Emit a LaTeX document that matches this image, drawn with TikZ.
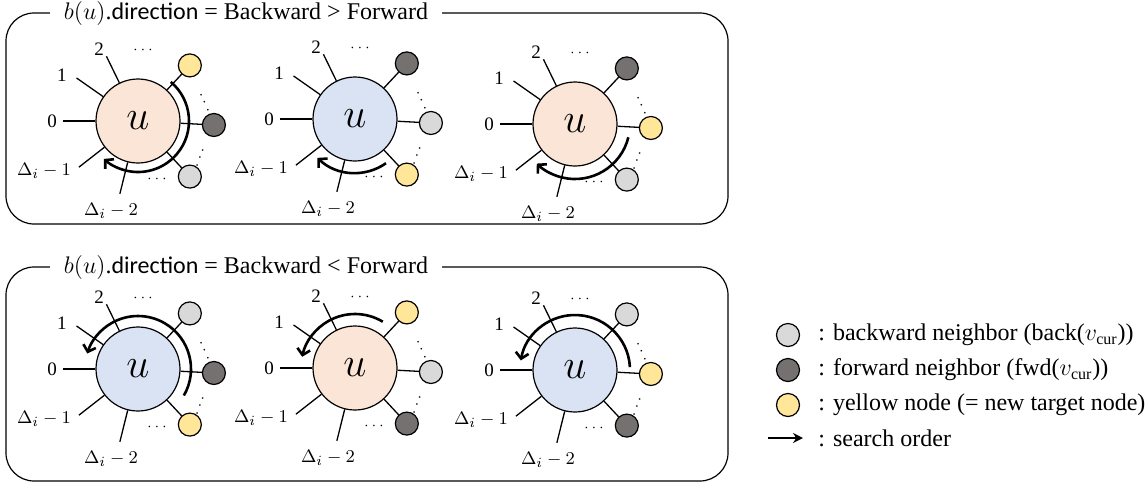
\documentclass[tikz,border=0pt]{standalone}
\usepackage{fontspec}
\setmainfont{Liberation Serif}
\newfontfamily\tnr{Liberation Serif}
\newfontfamily\calfont{Carlito}
\usepackage{tikz}
\usetikzlibrary{arrows.meta,calc}

\definecolor{peach}{HTML}{FBE5D6}
\definecolor{bluish}{HTML}{DAE3F3}
\definecolor{yel}{HTML}{FFE699}
\definecolor{dark}{HTML}{767171}
\definecolor{light}{HTML}{D9D9D9}

\tikzset{
  hub/.style={circle, draw, line width=0.6pt, minimum size=42pt, inner sep=0pt, font=\fontsize{22}{24}\selectfont},
  nbr/.style={circle, draw, line width=0.6pt, minimum size=11.5pt, inner sep=0pt},
  spoke/.style={line width=0.65pt},
  order/.style={line width=1.3pt, -{Straight Barb[length=3pt,width=6.5pt]}},
  lbl/.style={font=\tnr\fontsize{9.5}{11}\selectfont, inner sep=0pt},
  dots/.style={font=\fontsize{7}{8}\selectfont, inner sep=0pt},
  panel/.style={rounded corners=14pt, line width=0.6pt},
  ttl/.style={fill=white, minimum width=196pt, inner sep=0pt, font=\tnr\fontsize{12}{14}\selectfont},
  key/.style={anchor=west, inner sep=0pt, font=\tnr\fontsize{12}{14}\selectfont}
}

\begin{document}
\begin{tikzpicture}[x=0.5pt, y=0.5pt]
    %% Background
    \useasboundingbox (0,0) rectangle (1148,-484);

    %% Panels
    \draw[panel] (6,-13) rectangle (728,-224);
    \draw[panel] (6,-267) rectangle (728,-481);
    \node[ttl] (top) at (246,-13) {$b(u)$.{\calfont direction} = Backward > Forward};
    \node[ttl] (bot) at (246,-267) {$b(u)$.{\calfont direction} = Backward < Forward};

    %% Hubs with spokes, neighbours and search order
    \foreach \i/\cx/\cy/\fc/\na/\nb/\nc/\as/\ae/\ar in {
        1/138/-121/peach/yel/dark/light/50/-132/51,
        2/355/-119/bluish/dark/light/yel/-55/-134/54,
        3/575/-124/peach/dark/yel/light/-14/-134/55,
        4/138/-369/bluish/light/dark/yel/-30/163/53,
        5/355/-368/peach/yel/light/dark/59/168/54,
        6/575/-370/bluish/light/yel/dark/3/170/55}
    {
    \node[hub, fill=\fc] (u\i) at (\cx,\cy) {$u$};
    \foreach \a/\r [count=\k] in {180/75, 145/75, 116/72, 218/75, 256/75}
    {
    \coordinate (s\i-\k) at ($(u\i)+(\a:\r)$);
    \draw[spoke] (u\i.\a) -- (s\i-\k);
    }
    \foreach \dx/\dy/\txt [count=\k] in {-86/0/0, -76/46/1, -39/72/2, -94/-50/{$\Delta_i-1$}, -27/-90/{$\Delta_i-2$}}
    {
    \node[lbl] (t\i-\k) at ($(u\i)+(\dx,\dy)$) {\txt};
    }
    \foreach \a/\c [count=\k] in {47/\na, -3/\nb, -47/\nc}
    {
    \node[nbr, fill=\c] (n\i-\k) at ($(u\i)+(\a:76)$) {};
    \draw[spoke] (u\i.\a) -- (n\i-\k);
    }
    \node[dots] (d\i-1) at ($(u\i)+(5,71)$) {$\cdots$};
    \node[dots, rotate=25] (d\i-2) at ($(u\i)+(64,24)$) {$\vdots$};
    \node[dots, rotate=-20] (d\i-3) at ($(u\i)+(64,-31)$) {$\vdots$};
    \node[dots] (d\i-4) at ($(u\i)+(19,-58)$) {$\cdots$};
    \draw[order] ($(u\i)+(\as:\ar)$) arc[start angle=\as, end angle=\ae, radius=\ar*0.5pt];
    }

    %% Legend
    \node[nbr, fill=light] (k1) at (788,-335) {};
    \node[nbr, fill=dark] (k2) at (788,-370) {};
    \node[nbr, fill=yel] (k3) at (788,-405) {};
    \coordinate (a0) at (768,-438);
    \coordinate (a1) at (803,-438);
    \draw[line width=1pt, -{Stealth[length=5pt,width=5pt]}] (a0) -- (a1);
    \node[key] (k1t) at (818,-335) {: backward neighbor (back($v_{\mathrm{cur}}$))};
    \node[key] (k2t) at (818,-370) {: forward neighbor (fwd($v_{\mathrm{cur}}$))};
    \node[key] (k3t) at (818,-405) {: yellow node (= new target node)};
    \node[key] (k4t) at (818,-438) {: search order};

\end{tikzpicture}
\end{document}
